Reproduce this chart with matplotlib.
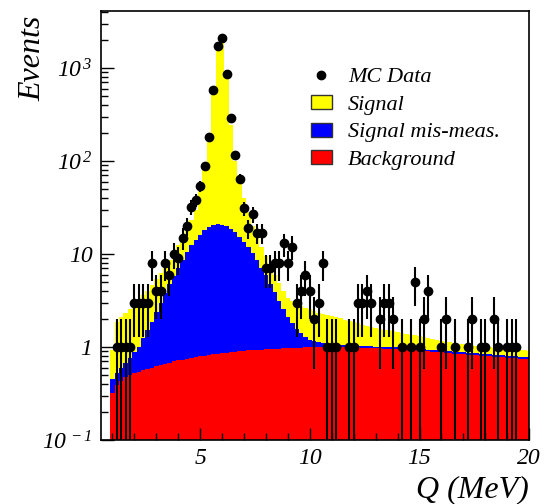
import numpy as np
import matplotlib
matplotlib.use("Agg")
import matplotlib.pyplot as plt
from matplotlib.ticker import FixedLocator, MultipleLocator, LogLocator, NullFormatter
from matplotlib.patches import Patch
from matplotlib.lines import Line2D

plt.rcParams['font.family'] = 'Liberation Serif'
plt.rcParams['font.style'] = 'italic'
plt.rcParams['mathtext.fontset'] = 'custom'
plt.rcParams['mathtext.rm'] = 'Liberation Serif:italic'
plt.rcParams['mathtext.it'] = 'Liberation Serif:italic'
plt.rcParams['mathtext.default'] = 'it'

# binning: 0.2 MeV bins, first bin centred at 1.0 MeV
bin_lo, bin_hi, bin_w = 0.9, 20.1, 0.2

# MC data counts per bin (centres 1.0 ... 20.0)
mc_data = [0, 1, 1, 1, 1, 3, 3, 3, 3, 8,
           4, 4, 8, 6, 10, 9, 15, 20, 32, 38,
           54, 88, 180, 580, 1740, 2080, 856, 292, 117, 64,
           31, 19, 27, 17, 17, 7, 7, 8, 8, 13,
           8, 12, 3, 4, 6, 4, 2, 3, 8, 1,
           1, 1, 0, 0, 1, 1, 3, 3, 4, 3,
           0, 2, 3, 3, 2, 0, 1, 0, 1, 5,
           1, 2, 4, 0, 0, 1, 2, 0, 1, 0,
           0, 1, 2, 0, 1, 1, 0, 2, 1, 0,
           1, 1, 1, 0, 0, 0]

# stacked totals as drawn (signal + mis-meas + background)
stack_signal = [0.93, 1.87, 2.1, 2.3, 2.55, 2.85, 3.2, 3.6, 4.0, 4.6,
                5.4, 6.3, 7.4, 8.7, 10.3, 12.5, 14.5, 18, 23, 30,
                50, 90, 188, 600, 1900, 1950, 800, 245, 100, 59,
                40, 28, 20, 15, 12, 9.5, 7.5, 6.0, 4.9, 4.0,
                3.4, 3.1, 2.9, 2.75, 2.65, 2.55, 2.45, 2.35, 2.25, 2.2,
                2.15, 2.1, 2.03, 1.96, 1.9, 1.85, 1.8, 1.74, 1.69, 1.64,
                1.6, 1.57, 1.54, 1.51, 1.48, 1.45, 1.42, 1.39, 1.36, 1.33,
                1.30, 1.28, 1.25, 1.22, 1.20, 1.17, 1.14, 1.12, 1.10, 1.09,
                1.08, 1.07, 1.05, 1.03, 1.02, 1.0, 0.99, 0.98, 0.97, 0.96,
                0.95, 0.94, 0.93, 0.92, 0.92, 0.91]

# mis-meas + background
stack_mismeas = [0.45, 0.52, 0.59, 0.67, 0.76, 0.88, 1.00, 1.24, 1.52, 1.87,
                 2.4, 2.95, 3.8, 4.8, 5.8, 7.0, 8.6, 10.5, 12.5, 14.3,
                 16.0, 18.1, 19.4, 20.5, 21.0, 20.7, 19.9, 18.8, 17.2, 15.4,
                 13.6, 11.8, 10.2, 8.6, 7.1, 5.9, 4.8, 3.9, 3.1, 2.55,
                 2.1, 1.8, 1.55, 1.4, 1.28, 1.2, 1.15, 1.12, 1.10, 1.08,
                 1.07, 1.06, 1.05, 1.04, 1.03, 1.03, 1.03, 1.02, 1.02, 1.02,
                 1.01, 1.01, 1.00, 1.00, 0.99, 0.99, 0.98, 0.97, 0.97, 0.96,
                 0.95, 0.95, 0.94, 0.93, 0.92, 0.92, 0.91, 0.90, 0.89, 0.89,
                 0.88, 0.87, 0.86, 0.86, 0.85, 0.84, 0.84, 0.83, 0.82, 0.82,
                 0.81, 0.80, 0.80, 0.79, 0.78, 0.78]

background = [0.32, 0.39, 0.43, 0.47, 0.50, 0.52, 0.54, 0.56, 0.58, 0.60,
              0.62, 0.64, 0.66, 0.68, 0.70, 0.72, 0.73, 0.75, 0.77, 0.78,
              0.80, 0.81, 0.83, 0.84, 0.85, 0.86, 0.87, 0.88, 0.89, 0.90,
              0.91, 0.92, 0.93, 0.93, 0.94, 0.95, 0.95, 0.96, 0.96, 0.97,
              0.97, 0.98, 0.98, 0.98, 0.99, 0.99, 0.99, 0.99, 1.00, 1.00,
              1.00, 1.00, 1.00, 0.99, 0.99, 0.99, 0.99, 0.98, 0.98, 0.98,
              0.97, 0.97, 0.96, 0.96, 0.95, 0.95, 0.94, 0.93, 0.93, 0.92,
              0.91, 0.91, 0.90, 0.89, 0.88, 0.88, 0.87, 0.86, 0.85, 0.85,
              0.84, 0.83, 0.82, 0.82, 0.81, 0.80, 0.80, 0.79, 0.78, 0.78,
              0.77, 0.76, 0.76, 0.75, 0.74, 0.74]

legend_labels = ['MC Data', 'Signal', 'Signal mis-meas.', 'Background']
colors = ['#ffff00', '#0000ff', '#ff0000']

edges = np.round(np.arange(bin_lo, bin_hi + 1e-6, bin_w), 2)
centres = 0.5 * (edges[:-1] + edges[1:])

fig = plt.figure(figsize=(5.45, 5.04), dpi=100)
ax = fig.add_axes([0.185, 0.127, 0.786, 0.851])

for vals, col in zip([stack_signal, stack_mismeas, background], colors):
    ax.stairs(vals, edges, fill=True, baseline=1e-3, color=col, lw=0)

n = np.array(mc_data, dtype=float)
sel = n > 0
lo = np.maximum(n - np.sqrt(n), 1e-3)
hi = n + np.sqrt(n)
ax.errorbar(centres[sel], n[sel], yerr=[n[sel] - lo[sel], hi[sel] - n[sel]],
            fmt='o', color='black', ms=6, elinewidth=1.5, capsize=0)

ax.set_yscale('log')
ax.set_xlim(0.47, 20)
ax.set_ylim(0.1, 4100)

ax.xaxis.set_major_locator(FixedLocator([5, 10, 15, 20]))
ax.xaxis.set_minor_locator(MultipleLocator(1))
ax.yaxis.set_major_locator(FixedLocator([0.1, 1, 10, 100, 1000]))
ax.yaxis.set_minor_locator(LogLocator(base=10, subs=np.arange(2, 10)))
ax.yaxis.set_minor_formatter(NullFormatter())
ax.set_yticklabels([r'$10^{\,-1}$', '1', '10', r'$10^{\,2}$', r'$10^{\,3}$'],
                   fontstyle='italic', fontsize=17)
ax.set_xticklabels(['5', '10', '15', '20'], fontstyle='italic', fontsize=17)

ax.tick_params(which='both', direction='in', top=False, right=False)
ax.tick_params(which='major', length=9, width=1)
ax.tick_params(which='minor', length=5, width=1)
ax.tick_params(axis='y', pad=6)
ax.tick_params(axis='x', pad=6)
for s in ax.spines.values():
    s.set_linewidth(1.2)

ax.set_xlabel('Q (MeV)', fontsize=23, loc='right')
ax.set_ylabel('Events', fontsize=23, loc='top')
ax.yaxis.set_label_coords(-0.124, 0.99)

handles = [Line2D([], [], marker='o', ls='', color='black', ms=6),
           Patch(facecolor=colors[0], edgecolor='#333333'),
           Patch(facecolor=colors[1], edgecolor='#333333'),
           Patch(facecolor=colors[2], edgecolor='#333333')]
ax.legend(handles, legend_labels, loc='upper left', bbox_to_anchor=(0.464, 0.895),
          frameon=False, fontsize=16, handlelength=0.95, handleheight=0.6,
          handletextpad=0.72, labelspacing=0.35, borderpad=0)

fig.savefig('out.png', dpi=100)
